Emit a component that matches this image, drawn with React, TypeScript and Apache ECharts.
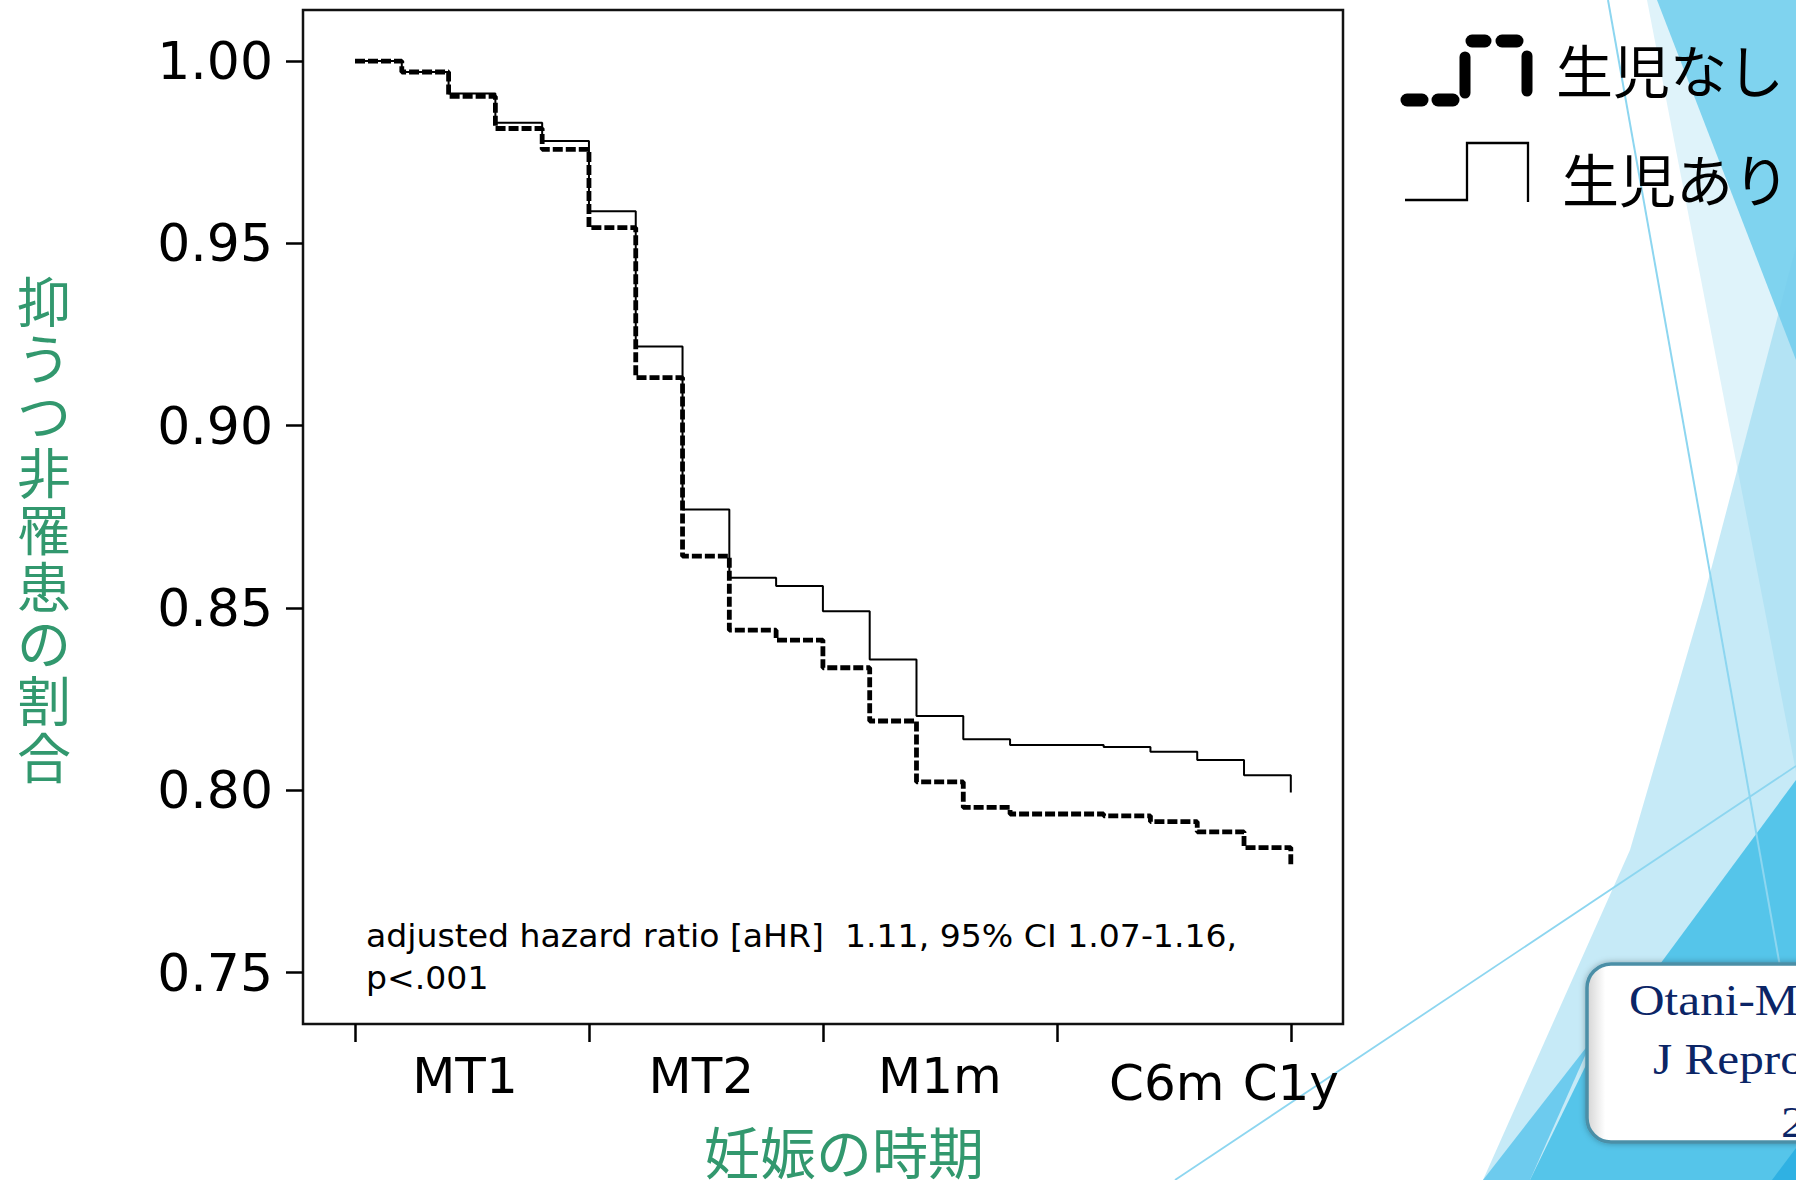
import React, { useEffect, useRef } from "react";
import * as echarts from "echarts";

// ---- data ----
const timePoints = [0, 0.2, 0.4, 0.6, 0.8, 1.0, 1.2, 1.4, 1.6, 1.8, 2.0, 2.2, 2.4, 2.6, 2.8, 3.0, 3.2, 3.4, 3.6, 3.8, 4.0];
const noBirth = [1.0, 0.997, 0.9903, 0.9815, 0.9758, 0.9543, 0.9132, 0.8642, 0.8439, 0.8412, 0.8336, 0.819, 0.8023, 0.7953, 0.7935, 0.7935, 0.793, 0.7914, 0.7886, 0.7843, 0.7793];
const withBirth = [1.0, 0.997, 0.9911, 0.9831, 0.9781, 0.9588, 0.9217, 0.877, 0.8583, 0.856, 0.8491, 0.8359, 0.8204, 0.814, 0.8124, 0.8124, 0.8119, 0.8106, 0.8083, 0.8041, 0.7994];
const yTicks = [0.75, 0.8, 0.85, 0.9, 0.95, 1.0];
const xTicks = [0, 1, 2, 3, 4];
const xLabels = ["MT1", "MT2", "M1m", "C6m", "C1y"];
const xLabelAt = [0.47, 1.48, 2.5, 3.47, 4.0];
const seriesNames = ["生児なし", "生児あり"];
const yTitle = "抑うつ非罹患の割合";
const xTitle = "妊娠の時期";
const noteLines = ["adjusted hazard ratio [aHR]  1.11, 95% CI 1.07-1.16,", "p<.001"];
const citeLines = ["Otani-Ma", "J Repro", "2"];

const GREEN = "#32986e";

function buildOption() {
  const pairs = (ys: number[]) => timePoints.map((t, i) => [t, ys[i]]);
  const bgLight = "rgba(120,205,235,0.42)";
  const citeFont = "44px 'Liberation Serif'";
  const graphics: any[] = [
    // slide background decoration
    { type: "polygon", silent: true, z: -20, shape: { points: [[1647, 0], [1796, 0], [1796, 772]] }, style: { fill: "#dff3fa" } },
    { type: "polygon", silent: true, z: -19, shape: { points: [[1657, 0], [1796, 0], [1796, 360]] }, style: { fill: "#7fd3ef" } },
    { type: "polygon", silent: true, z: -18, shape: { points: [[1796, 247], [1703, 600], [1630, 850], [1483, 1180], [1796, 1180]] }, style: { fill: bgLight } },
    { type: "polygon", silent: true, z: -17, shape: { points: [[1483, 1180], [1530, 1180], [1592, 1040]] }, style: { fill: "#6dcbee" } },
    { type: "polygon", silent: true, z: -16, shape: { points: [[1796, 780], [1796, 1180], [1530, 1180], [1587, 1063]] }, style: { fill: "#55c5ea" } },
    { type: "polygon", silent: true, z: -15, shape: { points: [[1772, 1180], [1796, 1180], [1796, 1148]] }, style: { fill: "#2fb1e3" } },
    { type: "line", silent: true, z: -14, shape: { x1: 1608, y1: 0, x2: 1818, y2: 1180 }, style: { stroke: "#8dd6f0", lineWidth: 2 } },
    { type: "line", silent: true, z: -14, shape: { x1: 1175, y1: 1180, x2: 1796, y2: 766 }, style: { stroke: "#8dd6f0", lineWidth: 1.8 } },
    // citation box
    {
      type: "rect", silent: true, z: -10,
      shape: { x: 1587, y: 964, width: 260, height: 178, r: 24 },
      style: {
        fill: new echarts.graphic.LinearGradient(0, 0, 1, 0, [
          { offset: 0, color: "#d4d4d4" },
          { offset: 0.07, color: "#ffffff" },
          { offset: 1, color: "#ffffff" },
        ]),
        stroke: "#4b8fa7", lineWidth: 3.5, shadowBlur: 6, shadowColor: "rgba(0,0,0,0.3)",
      },
    },
    { type: "text", silent: true, z: -9, x: 1629, y: 1000, scaleX: 1.12, style: { text: citeLines[0], font: citeFont, fill: "#0b2566", verticalAlign: "middle" } },
    { type: "text", silent: true, z: -9, x: 1653, y: 1059, scaleX: 1.12, style: { text: citeLines[1], font: citeFont, fill: "#0b2566", verticalAlign: "middle" } },
    { type: "text", silent: true, z: -9, x: 1781, y: 1122, scaleX: 1.12, style: { text: citeLines[2], font: citeFont, fill: "#0b2566", verticalAlign: "middle" } },
    // x axis title
    { type: "text", silent: true, x: 844, y: 1149, style: { text: xTitle, font: "56px 'Noto Sans CJK JP'", fill: GREEN, align: "center", verticalAlign: "middle" } },
    // annotation
    { type: "text", silent: true, x: 366, y: 936, scaleX: 1.035, style: { text: noteLines[0], font: "32px 'DejaVu Sans'", fill: "#000", verticalAlign: "middle" } },
    { type: "text", silent: true, x: 366, y: 978, scaleX: 1.035, style: { text: noteLines[1], font: "32px 'DejaVu Sans'", fill: "#000", verticalAlign: "middle" } },
    // legend symbols
    { type: "line", silent: true, shape: { x1: 1407, y1: 100, x2: 1422, y2: 100 }, style: { stroke: "#000", lineWidth: 13, lineCap: "round" } },
    { type: "line", silent: true, shape: { x1: 1438, y1: 100, x2: 1453, y2: 100 }, style: { stroke: "#000", lineWidth: 13, lineCap: "round" } },
    { type: "line", silent: true, shape: { x1: 1465, y1: 57, x2: 1465, y2: 93 }, style: { stroke: "#000", lineWidth: 11, lineCap: "round" } },
    { type: "line", silent: true, shape: { x1: 1472, y1: 41, x2: 1485, y2: 41 }, style: { stroke: "#000", lineWidth: 13, lineCap: "round" } },
    { type: "line", silent: true, shape: { x1: 1502, y1: 41, x2: 1517, y2: 41 }, style: { stroke: "#000", lineWidth: 13, lineCap: "round" } },
    { type: "line", silent: true, shape: { x1: 1527, y1: 56, x2: 1527, y2: 91 }, style: { stroke: "#000", lineWidth: 11, lineCap: "round" } },
    {
      type: "polyline", silent: true,
      shape: { points: [[1405, 200], [1467, 200], [1467, 143], [1528, 143], [1528, 202]] },
      style: { stroke: "#000", lineWidth: 2.3, fill: null },
    },
    { type: "text", silent: true, x: 1556, y: 68, style: { text: seriesNames[0], font: "57px 'Noto Sans CJK JP'", fill: "#000", verticalAlign: "middle" } },
    { type: "text", silent: true, x: 1562, y: 177, style: { text: seriesNames[1], font: "57px 'Noto Sans CJK JP'", fill: "#000", verticalAlign: "middle" } },
  ];
  // y axis title: upright characters stacked vertically
  yTitle.split("").forEach((ch, i) => {
    graphics.push({
      type: "text", silent: true, x: 44, y: 299 + i * 57,
      style: { text: ch, font: "54px 'Noto Sans CJK JP'", lineHeight: 55, fill: GREEN, align: "center", verticalAlign: "middle" },
    });
  });

  return {
    animation: false,
    backgroundColor: "#ffffff",
    grid: { left: 303, top: 10, width: 1040, height: 1014, show: true, borderColor: "#111", borderWidth: 2.5, backgroundColor: "transparent", containLabel: false },
    xAxis: {
      type: "value", min: -0.2223, max: 4.2231,
      axisLine: { show: false, onZero: false }, splitLine: { show: false },
      axisTick: { show: true, customValues: xTicks, length: 18, lineStyle: { color: "#000", width: 2.5 } },
      axisLabel: {
        show: true, customValues: xLabelAt, margin: 27,
        fontFamily: "DejaVu Sans", fontSize: 50, color: "#000",
        formatter: (v: number) => {
          const i = xLabelAt.findIndex((p) => Math.abs(p - v) < 1e-6);
          if (i < 0) return "";
          return i >= 3 ? "{low|" + xLabels[i] + "}" : "{n|" + xLabels[i] + "}";
        },
        rich: {
          n: { fontFamily: "DejaVu Sans", fontSize: 50, color: "#000" },
          low: { fontFamily: "DejaVu Sans", fontSize: 50, color: "#000", padding: [7, 0, 0, 0] },
        },
      },
    },
    yAxis: {
      type: "value", min: 0.7359, max: 1.014,
      axisLine: { show: false, onZero: false }, splitLine: { show: false },
      axisTick: { show: true, customValues: yTicks, length: 17, lineStyle: { color: "#000", width: 2.5 } },
      axisLabel: {
        show: true, customValues: yTicks, margin: 30,
        fontFamily: "DejaVu Sans", fontSize: 52, color: "#000",
        formatter: (v: number) => v.toFixed(2),
      },
    },
    series: [
      {
        name: seriesNames[1], type: "line", step: "end", symbol: "none", z: 3,
        data: pairs(withBirth),
        lineStyle: { color: "#000", width: 2 },
      },
      {
        name: seriesNames[0], type: "line", step: "end", symbol: "none", z: 4,
        data: pairs(noBirth),
        lineStyle: { color: "#000", width: 4.8, type: [10, 3], cap: "butt" },
      },
    ],
    graphic: graphics,
  };
}

export default function App() {
  const ref = useRef<HTMLDivElement>(null);
  useEffect(() => {
    if (!ref.current) return;
    const chart = echarts.init(ref.current, null, { renderer: "svg", width: 1796, height: 1180 });
    chart.setOption(buildOption() as any);
    return () => chart.dispose();
  }, []);
  return (
    <div
      ref={ref}
      style={{ position: "absolute", left: 0, top: 0, width: 1796, height: 1180, background: "#fff", overflow: "hidden" }}
    />
  );
}
